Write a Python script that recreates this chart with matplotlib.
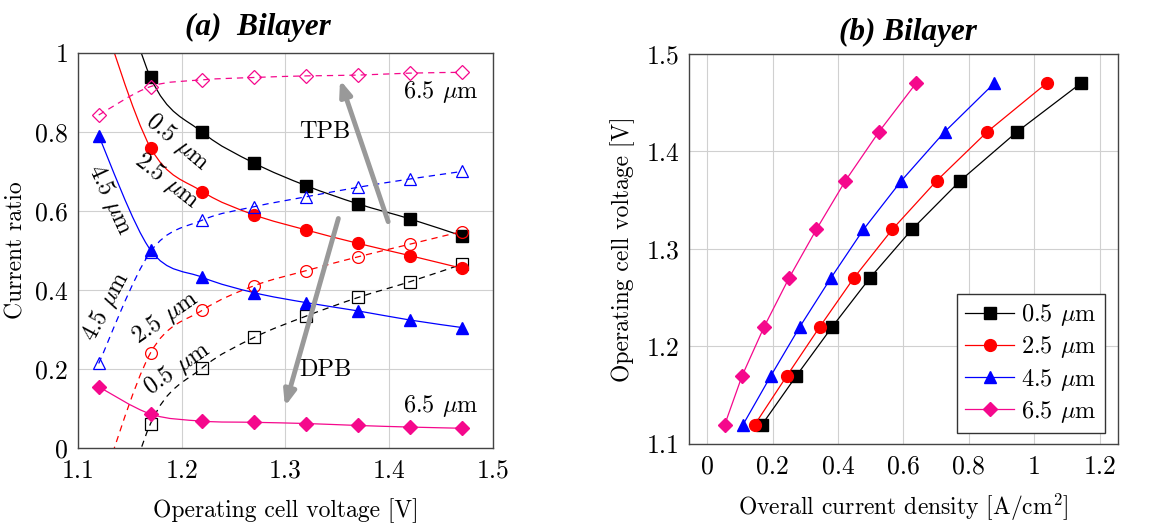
import numpy as np
import matplotlib
matplotlib.use('Agg')
import matplotlib.pyplot as plt
from matplotlib.path import Path
from matplotlib.patches import PathPatch

plt.rcParams['font.family'] = 'serif'
plt.rcParams['font.serif'] = ['cmr10']
plt.rcParams['mathtext.fontset'] = 'cm'
plt.rcParams['axes.formatter.use_mathtext'] = True

# data
voltage = [1.12, 1.17, 1.22, 1.27, 1.32, 1.37, 1.42, 1.47]
labels = ['0.5 $\\mu$m', '2.5 $\\mu$m', '4.5 $\\mu$m', '6.5 $\\mu$m']
colors = ['black', '#ff0000', '#0000ff', '#f5088c']
markers = ['s', 'o', '^', 'D']

# (a) current ratio, solid = decreasing branch, dashed = increasing branch
ratio_solid = [
    [1.38, 0.938, 0.799, 0.721, 0.664, 0.618, 0.580, 0.537],
    [1.12, 0.760, 0.649, 0.590, 0.552, 0.518, 0.487, 0.455],
    [0.790, 0.501, 0.432, 0.393, 0.368, 0.347, 0.324, 0.305],
    [0.155, 0.086, 0.068, 0.065, 0.062, 0.057, 0.053, 0.050],
]
ratio_dashed = [
    [-0.38, 0.062, 0.203, 0.280, 0.334, 0.381, 0.421, 0.465],
    [-0.12, 0.241, 0.349, 0.411, 0.449, 0.484, 0.516, 0.548],
    [0.214, 0.497, 0.577, 0.611, 0.636, 0.660, 0.681, 0.700],
    [0.843, 0.915, 0.932, 0.938, 0.942, 0.944, 0.949, 0.951],
]

# (b) polarization curves
current_density = [
    [0.168, 0.273, 0.382, 0.497, 0.626, 0.774, 0.947, 1.143],
    [0.146, 0.244, 0.344, 0.448, 0.566, 0.702, 0.856, 1.038],
    [0.110, 0.195, 0.283, 0.378, 0.478, 0.594, 0.726, 0.878],
    [0.054, 0.107, 0.174, 0.250, 0.334, 0.423, 0.525, 0.639],
]


def smooth_path(x, y):
    # Catmull-Rom style bezier through the data points
    p = np.column_stack([x, y])
    ext = np.vstack([p[0], p, p[-1]])
    verts = [p[0]]
    codes = [Path.MOVETO]
    for i in range(len(p) - 1):
        a, b, c, d = ext[i], ext[i + 1], ext[i + 2], ext[i + 3]
        verts += [b + (c - a) / 6, c - (d - b) / 6, c]
        codes += [Path.CURVE4] * 3
    return Path(verts, codes)


def smooth_line(ax, x, y, color, ls):
    patch = PathPatch(smooth_path(x, y), facecolor='none', edgecolor=color,
                      lw=0.9, ls=ls)
    ax.add_patch(patch)


def msize(m):
    return 7.5 if m == 'D' else 8.5


fig = plt.figure(figsize=(11.74, 5.23), dpi=100)
ax1 = fig.add_axes([0.0664, 0.1434, 0.3535, 0.7553])
ax2 = fig.add_axes([0.587, 0.151, 0.365, 0.746])

for ax in (ax1, ax2):
    ax.grid(True, color='#d0d0d0', lw=0.8)
    ax.set_axisbelow(True)
    ax.tick_params(length=0, labelsize=18.5, pad=7)
    ax.tick_params(axis='x', pad=8)
    for s in ax.spines.values():
        s.set_color('#444444')
        s.set_linewidth(1.0)

# ---- (a)
for i in range(4):
    smooth_line(ax1, voltage, ratio_solid[i], colors[i], '-')
    smooth_line(ax1, voltage, ratio_dashed[i], colors[i], (0, (5, 4)))
    ax1.plot(voltage, ratio_solid[i], ls='none', marker=markers[i],
             color=colors[i], ms=msize(markers[i]))
    ax1.plot(voltage, ratio_dashed[i], ls='none', marker=markers[i],
             mfc='none', mec=colors[i], mew=0.9, ms=msize(markers[i]))

ax1.set_xlim(1.1, 1.5)
ax1.set_ylim(0, 1)
ax1.set_xticks([1.1, 1.2, 1.3, 1.4, 1.5])
ax1.set_xticklabels(['1.1', '1.2', '1.3', '1.4', '1.5'])
ax1.set_yticks([0, 0.2, 0.4, 0.6, 0.8, 1])
ax1.set_yticklabels(['0', '0.2', '0.4', '0.6', '0.8', '1'])
ax1.set_xlabel('Operating cell voltage [V]', fontsize=17, labelpad=11)
ax1.set_ylabel('Current ratio', fontsize=17, labelpad=6)

arrow = dict(arrowstyle='-|>,head_length=0.9,head_width=0.35',
             color='#999999', lw=3.5, shrinkA=0, shrinkB=0)
ax1.annotate('', xy=(1.3526, 0.932), xytext=(1.399, 0.573), arrowprops=arrow)
ax1.annotate('', xy=(1.2995, 0.105), xytext=(1.351, 0.581), arrowprops=arrow)

fs = 17.5
ax1.text(1.338, 0.80, 'TPB', fontsize=fs, ha='center', va='center')
ax1.text(1.338, 0.197, 'DPB', fontsize=fs, ha='center', va='center')
ax1.text(1.45, 0.902, '6.5 $\\mu$m', fontsize=fs, ha='center', va='center')
ax1.text(1.45, 0.107, '6.5 $\\mu$m', fontsize=fs, ha='center', va='center')
ax1.text(1.196, 0.775, '0.5 $\\mu$m', fontsize=fs, ha='center', va='center', rotation=-40)
ax1.text(1.186, 0.675, '2.5 $\\mu$m', fontsize=fs, ha='center', va='center', rotation=-38)
ax1.text(1.131, 0.628, '4.5 $\\mu$m', fontsize=fs, ha='center', va='center', rotation=-65)
ax1.text(1.1277, 0.358, '4.5 $\\mu$m', fontsize=fs, ha='center', va='center', rotation=62)
ax1.text(1.184, 0.329, '2.5 $\\mu$m', fontsize=fs, ha='center', va='center', rotation=35)
ax1.text(1.196, 0.202, '0.5 $\\mu$m', fontsize=fs, ha='center', va='center', rotation=35)

fig.text(0.22, 0.947, '(a)  Bilayer', fontsize=22.5, fontweight='bold',
         fontstyle='italic', family='Liberation Serif', ha='center', va='center')

# ---- (b)
for i in range(4):
    ax2.plot(current_density[i], voltage, color=colors[i], lw=0.9,
             marker=markers[i], ms=msize(markers[i]), label=labels[i])

ax2.set_xlim(-0.055, 1.255)
ax2.set_ylim(1.1, 1.5)
ax2.set_xticks([0, 0.2, 0.4, 0.6, 0.8, 1, 1.2])
ax2.set_xticklabels(['0', '0.2', '0.4', '0.6', '0.8', '1', '1.2'])
ax2.set_yticks([1.1, 1.2, 1.3, 1.4, 1.5])
ax2.set_yticklabels(['1.1', '1.2', '1.3', '1.4', '1.5'])
ax2.set_xlabel('Overall current density [A/cm$^2$]', fontsize=17, labelpad=9)
ax2.set_ylabel('Operating cell voltage [V]', fontsize=17, labelpad=8)
leg = ax2.legend(loc='lower right', bbox_to_anchor=(0.971, 0.028), fontsize=17.5,
                 fancybox=False, edgecolor='#333333', framealpha=1,
                 handlelength=2.0, borderpad=0.35, labelspacing=0.25,
                 handletextpad=0.3, borderaxespad=0)
leg.get_frame().set_linewidth(1.0)

fig.text(0.773, 0.937, '(b) Bilayer', fontsize=22.5, fontweight='bold',
         fontstyle='italic', family='Liberation Serif', ha='center', va='center')

fig.savefig('out.png', dpi=100)
